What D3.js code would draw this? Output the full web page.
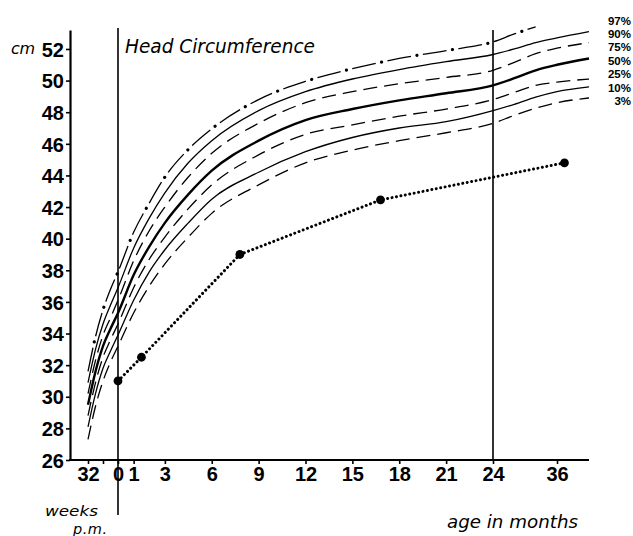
<!DOCTYPE html>
<html>
<head>
<meta charset="utf-8">
<script src="https://cdn.jsdelivr.net/npm/d3@7"></script>
<style>
  body { margin: 0; background: #fff; }
  svg { display: block; }
  .tick text { font-family: "Liberation Sans", Arial, sans-serif; font-weight: bold; font-size: 20px; fill: #000; }
  .lettering { font-family: "DejaVu Sans", sans-serif; font-style: italic; fill: #000; }
</style>
</head>
<body>
<script>
// age in months; negative values are weeks before term (40 weeks p.m.) divided by 4.345
var ageMonths = [-1.84, -1.38, -0.92, -0.46, 0, 1, 2, 3, 4.5, 6, 9, 12, 15, 18, 21, 24, 28, 32, 36, 42];

// percentile curves, head circumference in cm
var p97 = [31.6, 33.8, 35.5, 36.8, 37.9, 40.4, 42.25, 43.9, 45.65, 46.95, 48.8, 49.95, 50.75, 51.4, 51.9, 52.45, 52.95, 53.4, null, null];
var p90 = [30.9, 33.0, 34.6, 35.8, 36.9, 39.4, 41.3, 42.9, 44.8, 46.2, 48.1, 49.3, 50.1, 50.7, 51.2, 51.65, 52.0, 52.4, 52.7, 53.1];
var p75 = [30.2, 32.3, 33.9, 35.0, 36.1, 38.6, 40.5, 42.0, 43.9, 45.4, 47.3, 48.6, 49.3, 49.8, 50.2, 50.65, 51.15, 51.7, 52.05, 52.4];
var p50 = [29.5, 31.6, 33.2, 34.3, 35.3, 37.7, 39.5, 41.0, 42.8, 44.3, 46.2, 47.5, 48.2, 48.75, 49.2, 49.7, 50.15, 50.65, 51.0, 51.4];
var p25 = [28.8, 30.9, 32.5, 33.6, 34.6, 36.9, 38.7, 40.1, 41.9, 43.4, 45.3, 46.6, 47.2, 47.75, 48.2, 48.8, 49.25, 49.7, 49.9, 50.1];
var p10 = [28.1, 30.2, 31.8, 32.9, 33.9, 36.1, 37.9, 39.3, 41.0, 42.5, 44.2, 45.5, 46.4, 47.0, 47.4, 48.1, 48.5, 48.95, 49.3, 49.6];
var p3  = [27.3, 29.4, 31.0, 32.2, 33.2, 35.3, 37.0, 38.4, 40.1, 41.6, 43.4, 44.8, 45.6, 46.2, 46.7, 47.3, 47.8, 48.25, 48.6, 48.9];
var percentLabels = ["97%", "90%", "75%", "50%", "25%", "10%", "3%"];

// the patient
var patientAge = [0, 1.5, 7.8, 16.8, 37.4];
var patientHC = [31.0, 32.5, 39.0, 42.45, 44.8];

// axis ticks
var yTicks = [26, 28, 30, 32, 34, 36, 38, 40, 42, 44, 46, 48, 50, 52];
var weekTicks = [32, 36];          // weeks p.m.
var monthTicks = [0, 1, 3, 6, 9, 12, 15, 18, 21, 24, 36];

function weeksToMonths(w) {
    return (w - 40) / 4.345;
}

var w = 633;
var h = 536;

var svg = d3.select("body")
    .append("svg")
    .attr("width", w)
    .attr("height", h);

// x scale is stretched before 24 months and compressed after
var xScale = d3.scaleLinear()
    .domain([weeksToMonths(28), 0, 24, 42])
    .range([73, 118, 493, 589]);

var yScale = d3.scaleLinear()
    .domain([26, 53.2])
    .range([460, 30]);

// y axis
var yAxis = d3.axisLeft(yScale)
    .tickValues(yTicks)
    .tickSize(4)
    .tickPadding(2)
    .tickSizeOuter(0);

var gy = svg.append("g")
    .attr("transform", "translate(70,0)")
    .call(yAxis);
gy.select(".domain").attr("stroke-width", 2.2);
gy.selectAll(".tick line").attr("stroke-width", 1.6);
gy.selectAll(".tick text").attr("dy", "0.36em");

// x axis: weeks before birth, months after
var xTickAges = weekTicks.map(weeksToMonths).concat(monthTicks);
var xAxis = d3.axisBottom(xScale)
    .tickValues(xTickAges)
    .tickSize(4)
    .tickPadding(3)
    .tickSizeOuter(0)
    .tickFormat(function (d, i) {
        if (i < weekTicks.length) {
            return weekTicks[i] === 32 ? "32" : "";
        }
        return d;
    });

var gx = svg.append("g")
    .attr("transform", "translate(0,460)")
    .call(xAxis);
gx.select(".domain").attr("stroke-width", 2.2).attr("d", "M69,0H589");
gx.selectAll(".tick line").attr("stroke-width", 1.6);

// vertical lines at birth and at 24 months
svg.append("line")
    .attr("x1", xScale(0)).attr("x2", xScale(0))
    .attr("y1", 28).attr("y2", 515)
    .attr("stroke", "#000").attr("stroke-width", 1.6);

svg.append("line")
    .attr("x1", xScale(24)).attr("x2", xScale(24))
    .attr("y1", 30).attr("y2", 460)
    .attr("stroke", "#000").attr("stroke-width", 1.6);

// percentile curves
var line = d3.line()
    .defined(function (d) { return d[1] !== null; })
    .x(function (d) { return xScale(d[0]); })
    .y(function (d) { return yScale(d[1]); })
    .curve(d3.curveMonotoneX);

function pairs(values) {
    return ageMonths.map(function (a, i) { return [a, values[i]]; });
}

var curves = [
    { values: p90, width: 1.3, dash: null },
    { values: p75, width: 1.3, dash: "14,7" },
    { values: p50, width: 2.4, dash: null },
    { values: p25, width: 1.3, dash: "14,7" },
    { values: p10, width: 1.3, dash: null },
    { values: p3, width: 1.3, dash: "14,7" }
];

curves.forEach(function (c) {
    svg.append("path")
        .attr("d", line(pairs(c.values)))
        .attr("fill", "none")
        .attr("stroke", "#000")
        .attr("stroke-width", c.width)
        .attr("stroke-dasharray", c.dash);
});

// 97% is dash-dot: dashes and separate round dots in the gaps
svg.append("path")
    .attr("d", line(pairs(p97)))
    .attr("fill", "none")
    .attr("stroke", "#000")
    .attr("stroke-width", 1.3)
    .attr("stroke-dasharray", "24,12");

svg.append("path")
    .attr("d", line(pairs(p97)))
    .attr("fill", "none")
    .attr("stroke", "#000")
    .attr("stroke-width", 3.2)
    .attr("stroke-linecap", "round")
    .attr("stroke-dasharray", "0.01,35.99")
    .attr("stroke-dashoffset", 6);

// patient: dotted line with big dots at the measurements
var patient = patientAge.map(function (a, i) { return [a, patientHC[i]]; });

svg.append("path")
    .attr("d", d3.line()
        .x(function (d) { return xScale(d[0]); })
        .y(function (d) { return yScale(d[1]); })(patient))
    .attr("fill", "none")
    .attr("stroke", "#000")
    .attr("stroke-width", 3)
    .attr("stroke-linecap", "round")
    .attr("stroke-dasharray", "0.01,4.5");

svg.selectAll(".measure")
    .data(patient)
    .enter()
    .append("circle")
    .attr("class", "measure")
    .attr("cx", function (d) { return xScale(d[0]); })
    .attr("cy", function (d) { return yScale(d[1]); })
    .attr("r", 4.4)
    .attr("fill", "#000");

// percentile labels on the right
svg.selectAll(".pct")
    .data(percentLabels)
    .enter()
    .append("text")
    .attr("class", "pct")
    .attr("x", 631)
    .attr("y", function (d, i) { return 24.5 + i * 13.4; })
    .attr("text-anchor", "end")
    .style("font-family", "Liberation Sans, Arial, sans-serif")
    .style("font-weight", "bold")
    .style("font-size", "11.5px")
    .text(function (d) { return d; });

// lettering
svg.append("text")
    .attr("class", "lettering")
    .attr("x", 125).attr("y", 53)
    .attr("textLength", 190)
    .attr("lengthAdjust", "spacingAndGlyphs")
    .style("font-size", "19px")
    .text("Head Circumference");

svg.append("text")
    .attr("class", "lettering")
    .attr("x", 11).attr("y", 54)
    .attr("textLength", 24)
    .style("font-size", "16px")
    .text("cm");

svg.append("text")
    .attr("class", "lettering")
    .attr("x", 45).attr("y", 516)
    .attr("textLength", 53)
    .attr("lengthAdjust", "spacingAndGlyphs")
    .style("font-size", "14.5px")
    .text("weeks");

svg.append("text")
    .attr("class", "lettering")
    .attr("x", 73).attr("y", 534)
    .attr("textLength", 34)
    .style("font-size", "14.5px")
    .text("p.m.");

svg.append("text")
    .attr("class", "lettering")
    .attr("x", 447).attr("y", 528)
    .attr("textLength", 131)
    .attr("lengthAdjust", "spacingAndGlyphs")
    .style("font-size", "17px")
    .text("age  in months");
</script>
</body>
</html>
